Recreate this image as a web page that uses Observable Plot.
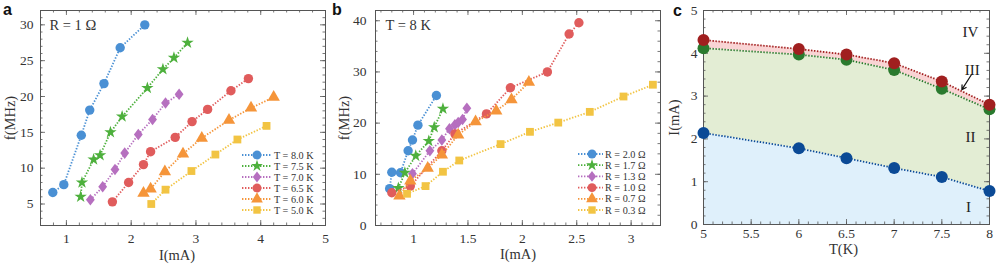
<!DOCTYPE html>
<html><head><meta charset="utf-8">
<script src="https://cdn.jsdelivr.net/npm/d3@7"></script>
<script src="https://cdn.jsdelivr.net/npm/@observablehq/plot@0.6"></script>
<style>
body{margin:0;background:#fff;}
#wrap{position:relative;width:996px;height:265px;overflow:hidden;background:#fff;}
.panel{position:absolute;top:0;}
.letter{position:absolute;font-family:"Liberation Sans",Arial,sans-serif;font-weight:bold;font-size:16px;line-height:1;color:#111;}
</style></head><body>
<div id="wrap"></div>
<script>
// ---------------- Panel a data (R = 1 Ω) ----------------
const aLabels = ["T = 8.0 K","T = 7.5 K","T = 7.0 K","T = 6.5 K","T = 6.0 K","T = 5.0 K"];
const aI_80 = [0.79,0.96,1.23,1.36,1.58,1.83,2.21];
const aF_80 = [6.6,7.7,14.6,18.1,21.8,26.8,30.0];
const aI_75 = [1.22,1.24,1.42,1.52,1.68,1.86,2.25,2.49,2.66,2.87];
const aF_75 = [6.0,8.0,11.2,11.8,15.0,17.2,21.2,23.8,25.4,27.5];
const aI_70 = [1.37,1.56,1.75,1.90,2.11,2.33,2.53,2.74];
const aF_70 = [5.6,7.4,9.8,12.1,14.7,16.8,19.1,20.3];
const aI_65 = [1.71,1.96,2.19,2.30,2.68,2.94,3.18,3.54,3.81];
const aF_65 = [5.3,8.0,10.5,12.3,14.3,16.5,18.2,20.8,22.5];
const aI_60 = [2.19,2.30,2.52,2.80,3.09,3.51,3.85,4.20];
const aF_60 = [6.5,7.1,9.5,12.0,14.2,16.7,18.4,19.9];
const aI_50 = [2.31,2.53,2.93,3.30,3.64,4.09];
const aF_50 = [5.0,7.0,9.6,11.9,14.0,15.9];
const aXTicks = [1,2,3,4,5];
const aYTicks = [5,10,15,20,25,30];

// ---------------- Panel b data (T = 8 K) ----------------
const bLabels = ["R = 2.0 Ω","R = 1.7 Ω","R = 1.3 Ω","R = 1.0 Ω","R = 0.7 Ω","R = 0.3 Ω"];
const bI_20 = [0.78,0.80,0.88,0.95,0.99,1.04,1.21];
const bF_20 = [7.2,10.4,10.3,14.6,16.7,19.6,25.4];
const bI_17 = [0.86,0.92,1.02,1.14,1.19,1.27];
const bF_17 = [7.3,10.3,13.6,16.5,19.2,22.8];
const bI_13 = [0.99,1.15,1.26,1.33,1.38,1.41,1.45,1.49];
const bF_13 = [10.1,14.6,16.7,18.9,19.7,20.1,20.7,22.9];
const bI_10 = [0.80,0.97,1.26,1.38,1.67,1.89,2.23,2.43,2.52];
const bF_10 = [6.4,7.7,14.6,17.9,21.8,26.9,30.0,37.4,39.6];
const bI_07 = [0.87,0.97,1.13,1.26,1.41,1.57,1.76,1.90,2.06];
const bF_07 = [5.8,8.7,11.2,13.8,17.7,20.3,22.4,24.6,28.0];
const bI_03 = [0.94,1.11,1.27,1.42,1.80,2.07,2.33,2.62,2.93,3.20];
const bF_03 = [6.2,7.7,10.5,12.7,15.9,18.3,20.1,22.2,25.2,27.5];
const bXTicks = [1,1.5,2,2.5,3];
const bYTicks = [0,10,20,30,40];

// ---------------- Panel c data (phase diagram) ----------------
const cT = [5,6,6.5,7,7.5,8];
const cRed = [4.31,4.10,3.97,3.77,3.34,2.80];
const cGreen = [4.12,3.97,3.85,3.61,3.17,2.69];
const cBlue = [2.14,1.78,1.55,1.32,1.11,0.78];
const cRegionNames = ["IV","III","II","I"];
const cRegionT = [7.8,7.82,7.8,7.78];
const cRegionI = [4.49,3.6,2.03,0.4];
const cArrowFrom = [7.81,3.5];
const cArrowTo = [7.71,3.15];
const cXTicks = [5,5.5,6,6.5,7,7.5,8];
const cYTicks = [0,1,2,3,4,5];

// ---------------- styles ----------------
const SERIF = "'Liberation Serif','Times New Roman',serif";
const COLORS = ["#4a90d4","#4db03c","#b66fbf","#e05c5c","#f5953a","#f2c443"];
const diamond = {draw(ctx, size){const r=Math.sqrt(size/Math.PI);const h=r*1.2,w=r*0.92;ctx.moveTo(0,-h);ctx.lineTo(w,0);ctx.lineTo(0,h);ctx.lineTo(-w,0);ctx.closePath();}};
const SYMBOLS = ["circle","star",diamond,"circle","triangle","square"];
const RADII = [4.7,3.9,4.8,4.7,4.6,4.4];
const TXT = "#333";
const DASH = "1.4,1.6";

function table(I, f){ return I.map((x,i)=>({x, y:f[i]})); }
const aSeries = [[aI_80,aF_80],[aI_75,aF_75],[aI_70,aF_70],[aI_65,aF_65],[aI_60,aF_60],[aI_50,aF_50]].map(([I,f])=>table(I,f));
const bSeries = [[bI_20,bF_20],[bI_17,bF_17],[bI_13,bF_13],[bI_10,bF_10],[bI_07,bF_07],[bI_03,bF_03]].map(([I,f])=>table(I,f));
const cData = cT.map((t,i)=>({T:t, red:cRed[i], green:cGreen[i], blue:cBlue[i]}));
const cRegions = cRegionNames.map((n,i)=>({n, T:cRegionT[i], I:cRegionI[i]}));
const cArrow = [{x1:cArrowFrom[0],y1:cArrowFrom[1],x2:cArrowTo[0],y2:cArrowTo[1]}];

function range(a,b,s){const out=[];for(let v=a;v<=b+1e-9;v+=s)out.push(+v.toFixed(6));return out;}

function frameMarks(cfg, innerW, innerH){
  const inside = (arr, dom) => arr.filter(v => v >= Math.min(...dom)-1e-9 && v <= Math.max(...dom)+1e-9);
  const st = "#555", out = [];
  for (const [vals,len] of [[cfg.xMajor,5],[cfg.xMinor,2.5]]) {
    const v = inside(vals, cfg.xDomain);
    out.push(Plot.tickX(v,{x:d=>d, insetTop:innerH-len, stroke:st, strokeWidth:0.8}));
    out.push(Plot.tickX(v,{x:d=>d, insetBottom:innerH-len, stroke:st, strokeWidth:0.8}));
  }
  for (const [vals,len] of [[cfg.yMajor,5],[cfg.yMinor,2.5]]) {
    const v = inside(vals, cfg.yDomain);
    out.push(Plot.tickY(v,{y:d=>d, insetRight:innerW-len, stroke:st, strokeWidth:0.8}));
    out.push(Plot.tickY(v,{y:d=>d, insetLeft:innerW-len, stroke:st, strokeWidth:0.8}));
  }
  out.push(Plot.frame({stroke:"#555", strokeWidth:1}));
  out.push(Plot.axisX(inside(cfg.xMajor,cfg.xDomain),{tickSize:0, tickPadding:cfg.xPad, tickFormat:d=>String(d), fontSize:13.5, label:null, fill:TXT}));
  out.push(Plot.axisY(inside(cfg.yMajor,cfg.yDomain),{tickSize:0, tickPadding:cfg.yPad, tickFormat:d=>String(d), fontSize:13.5, label:null, fill:TXT}));
  out.push(Plot.text([cfg.xLabel],{frameAnchor:"bottom", dy:cfg.xLabelDy, dx:cfg.xLabelDx||0, text:d=>d, fontSize:14.5, fill:TXT, lineAnchor:"middle"}));
  out.push(Plot.text([cfg.yLabel],{frameAnchor:"left", dx:cfg.yLabelDx, rotate:-90, text:d=>d, fontSize:14.5, fill:TXT, lineAnchor:"middle", textAnchor:"middle"}));
  return out;
}

function buildPanel(cfg){
  const H = 265;
  const innerW = cfg.width - cfg.ml - cfg.mr, innerH = H - cfg.mt - cfg.mb;
  const marks = [...(cfg.under||[]), ...frameMarks(cfg, innerW, innerH), ...cfg.marks];
  const svg = Plot.plot({
    width: cfg.width, height: H,
    marginLeft: cfg.ml, marginRight: cfg.mr, marginTop: cfg.mt, marginBottom: cfg.mb,
    x: {domain: cfg.xDomain}, y: {domain: cfg.yDomain},
    style: {fontFamily: SERIF, fontSize: "13.5px", color: TXT, background: "transparent", overflow: "visible"},
    marks
  });
  svg.classList.add("panel");
  svg.style.left = cfg.left + "px";
  document.getElementById("wrap").appendChild(svg);
  return svg;
}

function dotted(data, x, y, color){
  return Plot.line(data,{x, y, stroke:color, strokeWidth:1.8, strokeDasharray:DASH, strokeLinecap:"butt"});
}

function seriesMarks(series){
  const m = [];
  series.forEach((data,i)=>{
    m.push(dotted(data,"x","y",COLORS[i]));
    m.push(Plot.dot(data,{x:"x", y:"y", fill:COLORS[i], symbol:SYMBOLS[i], r:RADII[i]}));
  });
  return m;
}

function addLegend(svg, labels, lx1, lx2, mx, tx, y0, dy){
  const g = d3.select(svg).append("g").attr("text-anchor","start");
  labels.forEach((lab,i)=>{
    const y = y0 + i*dy;
    g.append("line").attr("x1",lx1).attr("x2",lx2).attr("y1",y).attr("y2",y)
      .attr("stroke",COLORS[i]).attr("stroke-width",1.8).attr("stroke-dasharray",DASH).attr("stroke-linecap","butt");
    const sym = SYMBOLS[i];
    const type = typeof sym === "string" ? {circle:d3.symbolCircle, star:d3.symbolStar, triangle:d3.symbolTriangle, square:d3.symbolSquare}[sym] : sym;
    const r = RADII[i]*0.95;
    g.append("path").attr("d", d3.symbol(type, Math.PI*r*r)()).attr("transform",`translate(${mx},${y})`).attr("fill",COLORS[i]);
    g.append("text").attr("x",tx).attr("y",y).attr("dy","0.35em").attr("font-size",10.2).attr("fill",TXT)
      .attr("text-anchor","start").attr("font-family",SERIF).text(lab);
  });
}

// Panel a
const svgA = buildPanel({
  left:0, width:330, ml:40, mr:5, mt:10, mb:40,
  xDomain:[0.6,5], yDomain:[2,32],
  xMajor:aXTicks, xMinor:range(0.6,5,0.2), yMajor:aYTicks, yMinor:range(2,32,1),
  xPad:8, yPad:7, xLabel:"I(mA)", yLabel:"f(MHz)", xLabelDy:30, xLabelDx:-6, yLabelDx:-30,
  marks:[
    Plot.text(["R = 1 Ω"],{frameAnchor:"top-left", dx:9, dy:15, text:d=>d, fontSize:14.5, fill:TXT, textAnchor:"start", lineAnchor:"middle"}),
    ...seriesMarks(aSeries)
  ]
});
addLegend(svgA, aLabels, 242, 272, 257, 274, 155, 11);

// Panel b
const svgB = buildPanel({
  left:330, width:332, ml:45, mr:2, mt:10, mb:40,
  xDomain:[0.65,3.27], yDomain:[0,42],
  xMajor:bXTicks, xMinor:range(0.7,3.2,0.1), yMajor:bYTicks, yMinor:range(0,42,2),
  xPad:8, yPad:9, xLabel:"I(mA)", yLabel:"f(MHz)", xLabelDy:29, yLabelDx:-31,
  marks:[
    Plot.text(["T = 8 K"],{frameAnchor:"top-left", dx:10, dy:15, text:d=>d, fontSize:14.5, fill:TXT, textAnchor:"start", lineAnchor:"middle"}),
    ...seriesMarks(bSeries)
  ]
});
addLegend(svgB, bLabels, 248, 273, 262, 275, 154, 11.2);

// Panel c
const svgC = buildPanel({
  left:660, width:336, ml:43, mr:7, mt:10, mb:41,
  xDomain:[5,8], yDomain:[0,5],
  xMajor:cXTicks, xMinor:range(5,8,0.1), yMajor:cYTicks, yMinor:range(0,5,0.2),
  xPad:4, yPad:6, xLabel:"T(K)", yLabel:"I(mA)", xLabelDy:25, xLabelDx:-3, yLabelDx:-29,
  under:[
    Plot.areaY(cData,{x:"T", y1:0, y2:"blue", fill:"#dff0fb"}),
    Plot.areaY(cData,{x:"T", y1:"blue", y2:"green", fill:"#e3edd4"}),
    Plot.areaY(cData,{x:"T", y1:"green", y2:"red", fill:"#f9d4d4"})
  ],
  marks:[
    dotted(cData,"T","blue","#0b4a96"),
    Plot.dot(cData,{x:"T", y:"blue", fill:"#0b4a96", r:6}),
    dotted(cData,"T","green","#2a7a2e"),
    Plot.dot(cData,{x:"T", y:"green", fill:"#2a7a2e", r:6}),
    dotted(cData,"T","red","#a01f1f"),
    Plot.dot(cData,{x:"T", y:"red", fill:"#a01f1f", r:6}),
    Plot.text(cRegions,{x:"T", y:"I", text:"n", fontSize:15, fill:"#222"}),
    Plot.arrow(cArrow,{x1:"x1", y1:"y1", x2:"x2", y2:"y2", stroke:"#111", strokeWidth:1.2, headLength:6})
  ]
});

// panel letters
const wrap = document.getElementById("wrap");
[["a",3,1.5],["b",332,2],["c",673,3]].forEach(([t,l,tp])=>{
  const d=document.createElement("div"); d.className="letter"; d.textContent=t;
  d.style.left=l+"px"; d.style.top=tp+"px"; wrap.appendChild(d);
});
</script>
</body></html>
